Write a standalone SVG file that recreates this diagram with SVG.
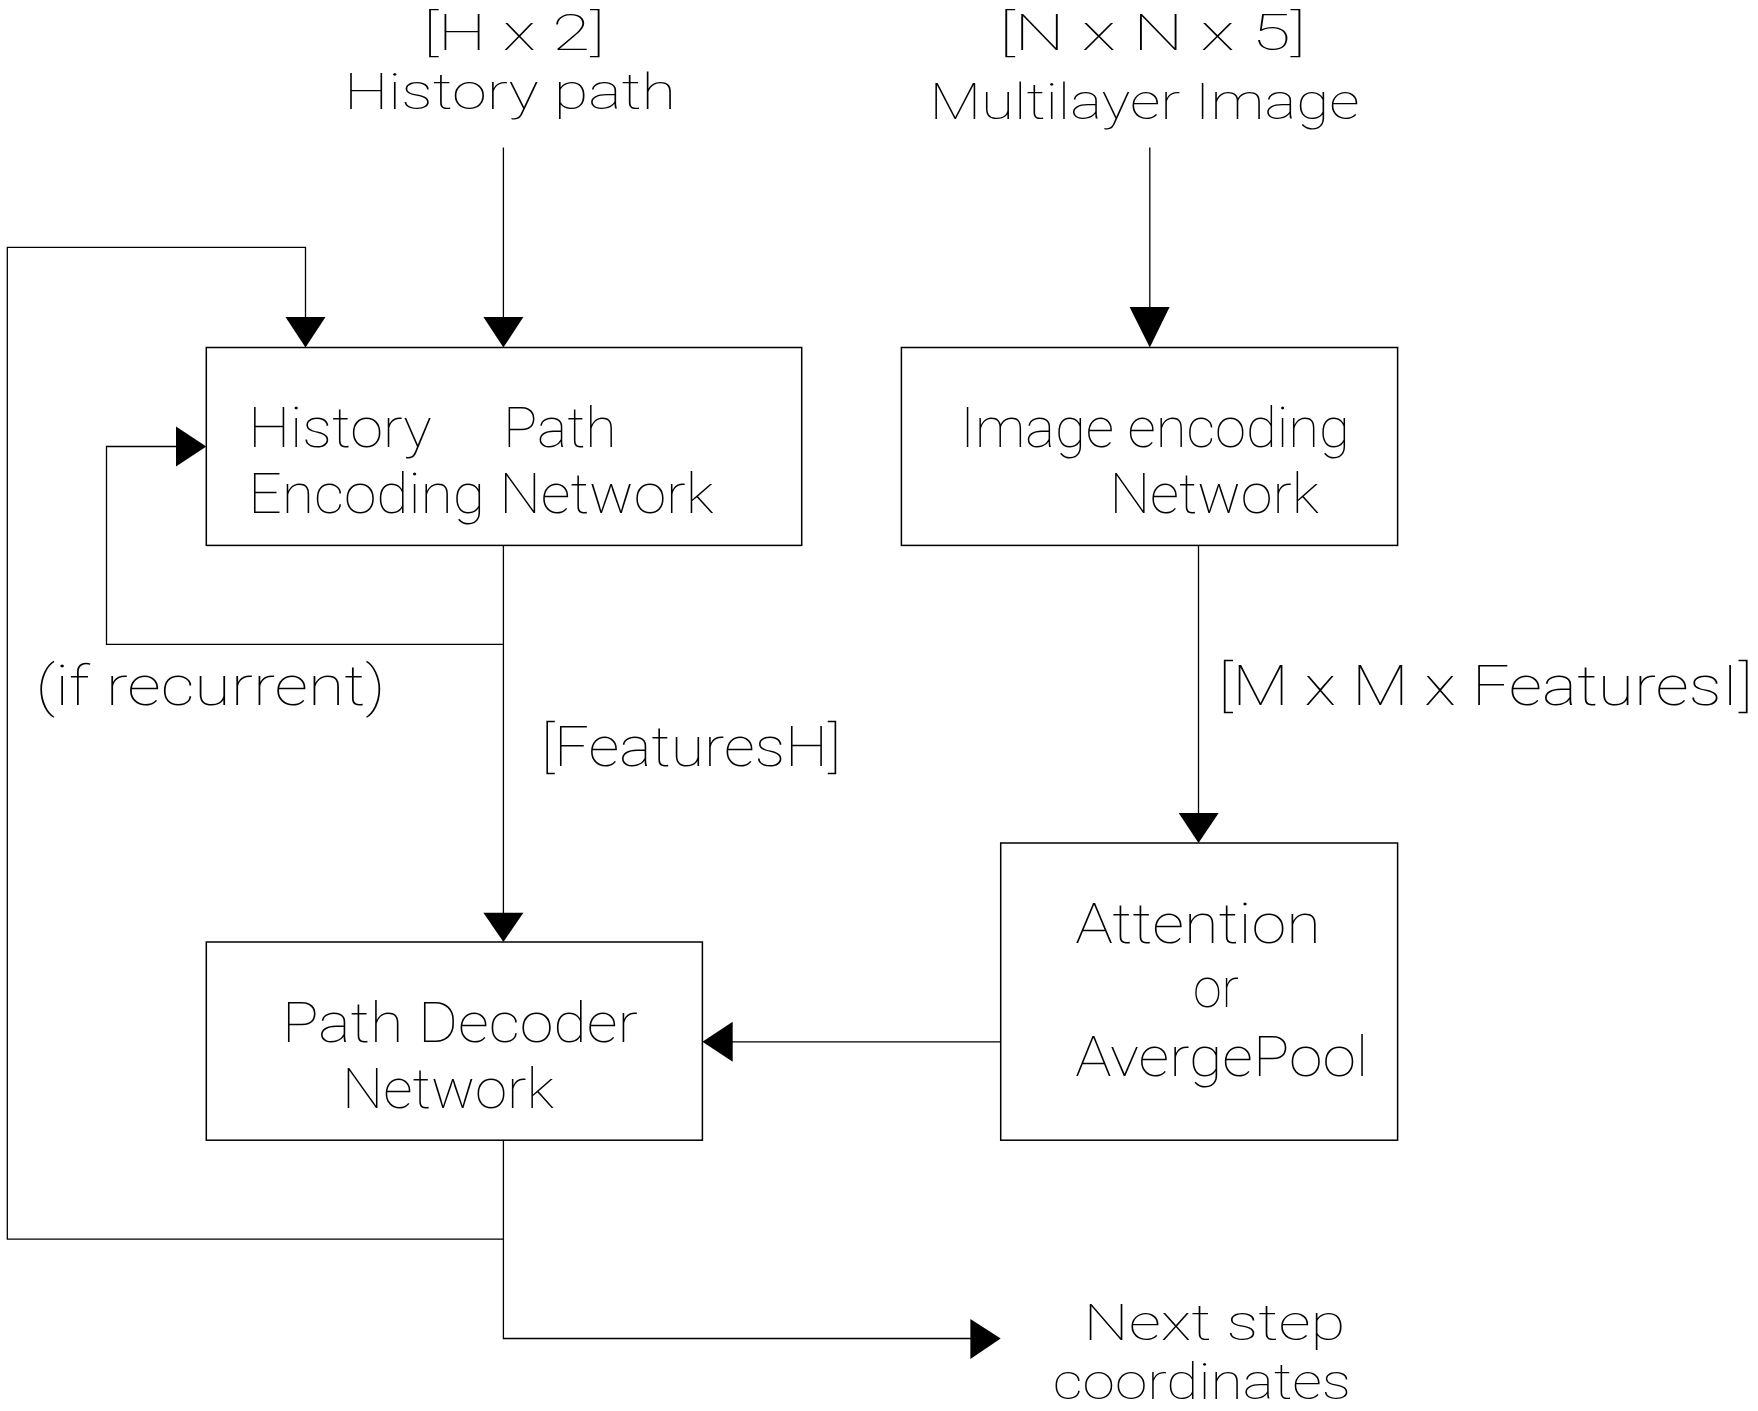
<svg xmlns="http://www.w3.org/2000/svg" width="1758" height="1411" viewBox="0 0 1758 1411">
<style>
.bg{fill:#ffffff}
.box{fill:#ffffff;stroke:#000000;stroke-width:1.5}
.ln{fill:none;stroke:#000000;stroke-width:1.3}
.ah{fill:#000000;stroke:none}
text{font-family:Roboto,Lato,"Liberation Sans",sans-serif;font-weight:100;font-size:56px;fill:#000000}
.sm{font-size:50px}
</style>
<rect class="bg" x="0" y="0" width="1758" height="1411"/>
<g id="connectors">
<polyline class="ln" points="503.4,147.5 503.4,318"/>
<polygon class="ah" points="483.4,317 523.4,317 503.4,347.5"/>
<polyline class="ln" points="503.4,1140.2 503.4,1338.5 971,1338.5"/>
<polygon class="ah" points="970.4,1319 970.4,1359 1000.7,1338.5"/>
<polyline class="ln" points="503.4,1239.1 7.3,1239.1 7.3,247.3 305.5,247.3 305.5,318"/>
<polygon class="ah" points="285.5,317 325.5,317 305.5,347.5"/>
<polyline class="ln" points="1149.8,147.5 1149.8,308"/>
<polygon class="ah" points="1129.6,307 1169.6,307 1149.8,347.5"/>
<polyline class="ln" points="503.4,545.4 503.4,913.5"/>
<polygon class="ah" points="483.4,912.7 523.4,912.7 503.4,942"/>
<polyline class="ln" points="503.4,644.3 106.5,644.3 106.5,446.5 177,446.5"/>
<polygon class="ah" points="176,426.5 176,466.5 206.3,446.5"/>
<polyline class="ln" points="1198.5,545.4 1198.5,813.5"/>
<polygon class="ah" points="1178.7,812.9 1218.7,812.9 1198.5,843"/>
<polyline class="ln" points="1000.7,1041.8 732,1041.8"/>
<polygon class="ah" points="732.7,1021.8 732.7,1061.8 702.4,1041.8"/>
</g>
<g id="label-history-input">
<text class="sm" x="423" y="50" textLength="182" lengthAdjust="spacingAndGlyphs">[H x 2]</text>
<text class="sm" x="344" y="109" textLength="332" lengthAdjust="spacingAndGlyphs">History path</text>
</g>
<g id="label-image-input">
<text class="sm" x="999" y="49.5" textLength="307" lengthAdjust="spacingAndGlyphs">[N x N x 5]</text>
<text class="sm" x="929.5" y="119" textLength="430" lengthAdjust="spacingAndGlyphs">Multilayer Image</text>
</g>
<g id="node-history-encoder">
<rect class="box" x="206.3" y="347.5" width="595.4" height="197.9"/>
<text x="248.3" y="446.5" textLength="183.4" lengthAdjust="spacingAndGlyphs">History</text>
<text x="502.9" y="446.5" textLength="113.8" lengthAdjust="spacingAndGlyphs">Path</text>
<text x="248.3" y="512.5" textLength="465.3" lengthAdjust="spacingAndGlyphs">Encoding Network</text>
</g>
<g id="node-image-encoder">
<rect class="box" x="901.4" y="347.5" width="496.2" height="197.9"/>
<text x="960.3" y="447.4" textLength="389.6" lengthAdjust="spacingAndGlyphs">Image encoding</text>
<text x="1109.4" y="512.5" textLength="209.6" lengthAdjust="spacingAndGlyphs">Network</text>
</g>
<g id="label-recurrent">
<text x="35.5" y="704.5" textLength="350" lengthAdjust="spacingAndGlyphs">(if recurrent)</text>
</g>
<g id="label-features-i">
<text x="1218" y="704.5" textLength="535" lengthAdjust="spacingAndGlyphs">[M x M x FeaturesI]</text>
</g>
<g id="label-features-h">
<text x="541" y="766" textLength="300" lengthAdjust="spacingAndGlyphs">[FeaturesH]</text>
</g>
<g id="node-path-decoder">
<rect class="box" x="206.3" y="942" width="496.1" height="198.2"/>
<text x="282" y="1042.2" textLength="356" lengthAdjust="spacingAndGlyphs">Path Decoder</text>
<text x="342" y="1108.3" textLength="212" lengthAdjust="spacingAndGlyphs">Network</text>
</g>
<g id="node-attention">
<rect class="box" x="1000.7" y="843" width="396.9" height="297.2"/>
<text x="1075.2" y="943.3" textLength="245.6" lengthAdjust="spacingAndGlyphs">Attention</text>
<text x="1193" y="1007.1" textLength="46" lengthAdjust="spacingAndGlyphs">or</text>
<text x="1075.2" y="1075.9" textLength="293.2" lengthAdjust="spacingAndGlyphs">AvergePool</text>
</g>
<g id="label-output">
<text class="sm" x="1083.6" y="1339.8" textLength="261.8" lengthAdjust="spacingAndGlyphs">Next step</text>
<text class="sm" x="1052.8" y="1398.5" textLength="298.2" lengthAdjust="spacingAndGlyphs">coordinates</text>
</g>
</svg>
